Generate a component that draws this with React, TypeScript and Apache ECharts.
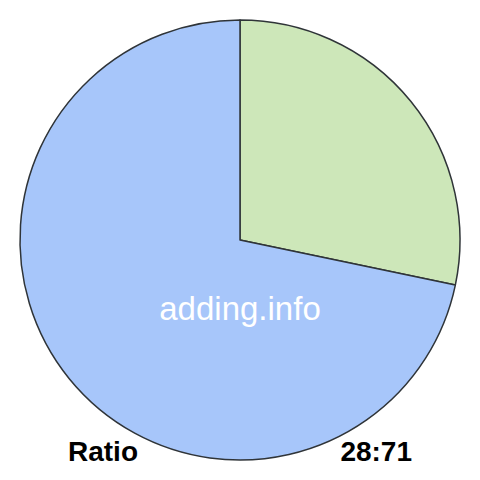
import { useEffect, useRef } from "react";
import * as echarts from "echarts";

const sliceNames = ["28", "71"];
const sliceValues = [28, 71];
const sliceColors = ["#cde7b9", "#a7c6fa"];
const watermark = "adding.info";
const footerLeft = "Ratio";
const footerRight = "28:71";

const App = () => {
  const chartRef = useRef<HTMLDivElement | null>(null);

  useEffect(() => {
    if (!chartRef.current) {
      return;
    }
    const instance = echarts.init(chartRef.current, undefined, {
      renderer: "svg",
    });

    const option: echarts.EChartsOption = {
      animation: false,
      backgroundColor: "#ffffff",
      series: [
        {
          type: "pie",
          center: [240, 240],
          radius: 220,
          startAngle: 90,
          clockwise: true,
          label: { show: false },
          labelLine: { show: false },
          emphasis: { disabled: true },
          itemStyle: { borderColor: "#2f3438", borderWidth: 1.5 },
          data: sliceNames.map((name, i) => ({
            name,
            value: sliceValues[i],
            itemStyle: { color: sliceColors[i] },
          })),
        },
      ],
      graphic: [
        {
          type: "text",
          x: 240,
          y: 308,
          z: 10,
          style: {
            text: watermark,
            font: "33px 'Liberation Sans', Arial, sans-serif",
            fill: "#ffffff",
            align: "center",
            verticalAlign: "middle",
          },
        },
        {
          type: "text",
          x: 68,
          y: 451,
          z: 10,
          style: {
            text: footerLeft,
            font: "bold 28px 'Liberation Sans', Arial, sans-serif",
            fill: "#000000",
            align: "left",
            verticalAlign: "middle",
          },
        },
        {
          type: "text",
          x: 412,
          y: 451,
          z: 10,
          style: {
            text: footerRight,
            font: "bold 28px 'Liberation Sans', Arial, sans-serif",
            fill: "#000000",
            align: "right",
            verticalAlign: "middle",
          },
        },
      ],
    };

    instance.setOption(option);

    return () => {
      instance.dispose();
    };
  }, []);

  return (
    <div
      ref={chartRef}
      style={{ position: "fixed", left: 0, top: 0, width: 480, height: 480 }}
    />
  );
};

export default App;
